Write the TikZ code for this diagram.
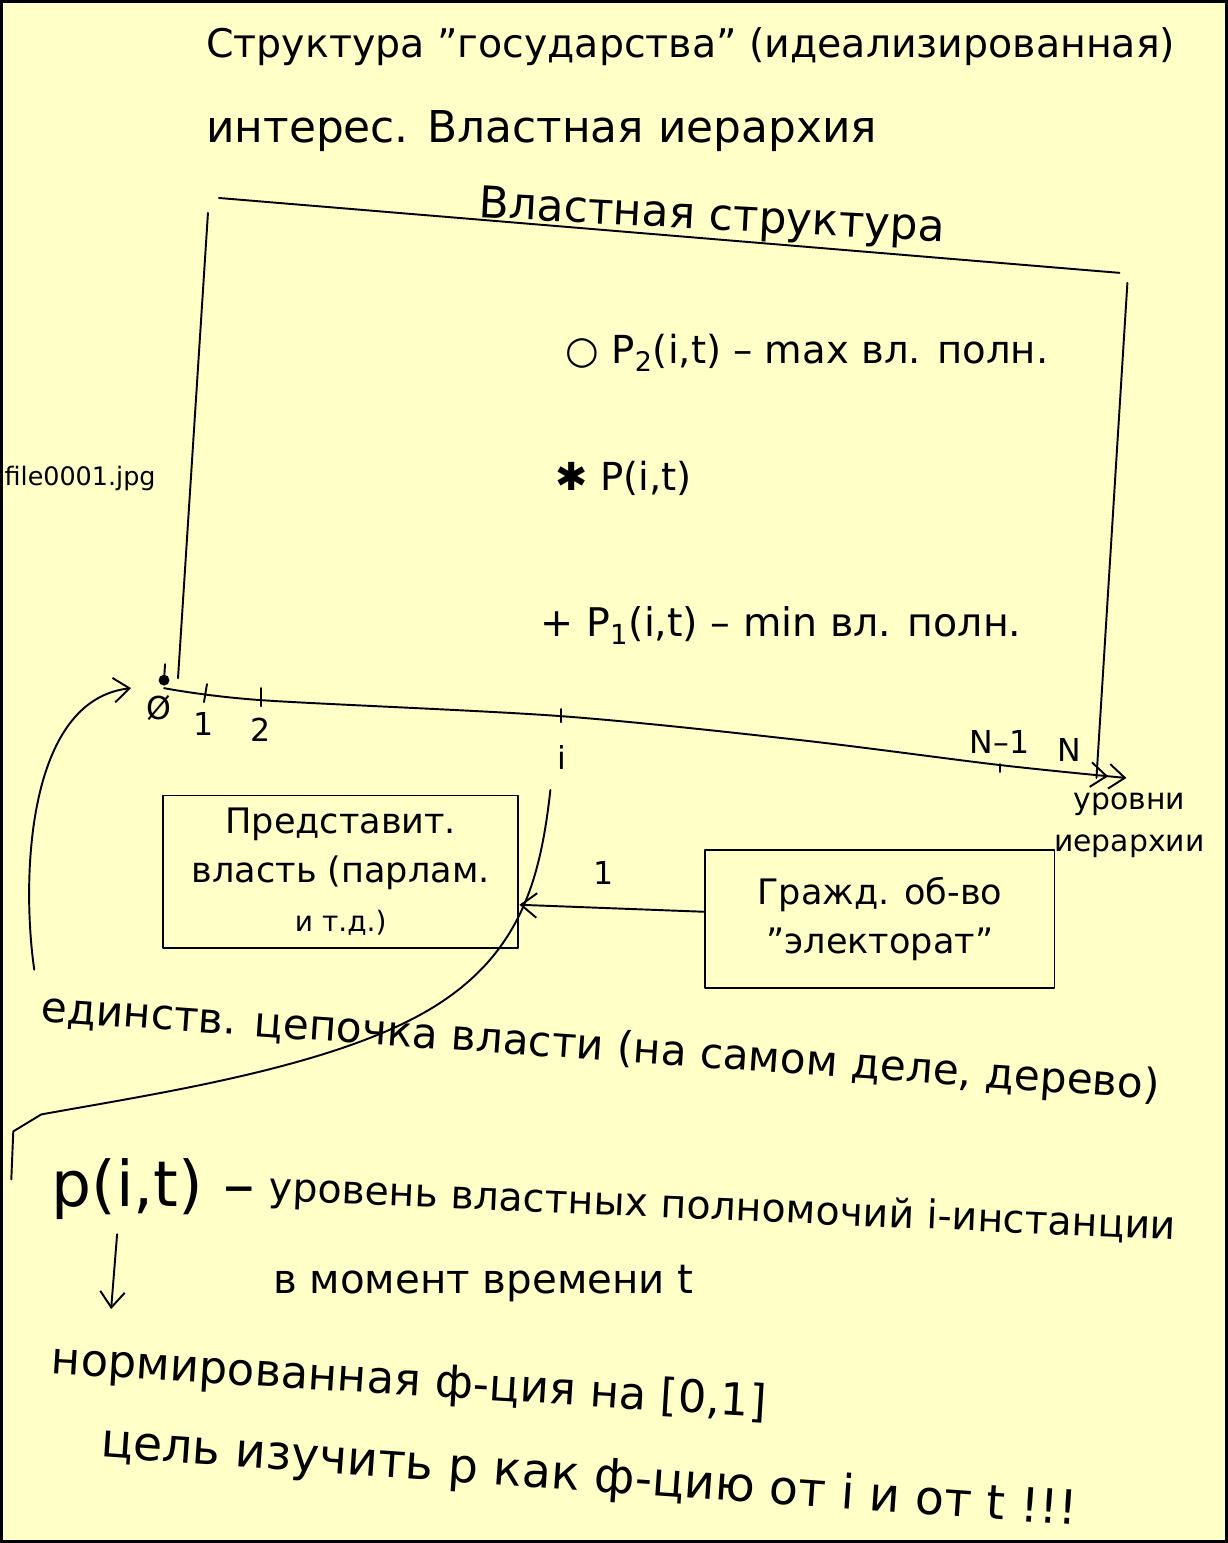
\documentclass[tikz,border=0pt]{standalone}
\usepackage{fontspec}
\setmainfont{DejaVu Sans}
\usetikzlibrary{arrows.meta}
\definecolor{paper}{HTML}{FFFFC8}
\begin{document}
\begin{tikzpicture}[x=0.02cm,y=-0.02cm,
  ink/.style={line width=1.1pt, line cap=round, line join=round},
  hw/.style={font=\fontsize{22}{28}\selectfont, inner sep=0pt, anchor=west},
  sm/.style={font=\fontsize{18}{22}\selectfont, inner sep=0pt},
  boxed/.style={ink, draw, align=center, font=\fontsize{20}{28}\selectfont},
  barb/.style={-{Straight Barb[length=9pt,width=14pt]}}]
\fill[paper] (0,0) rectangle (1227,1543);
\draw[line width=1.5pt] (0,0) rectangle (1227,1543);
\useasboundingbox (0,0) rectangle (1227,1543);

% headings
\node[hw, font=\fontsize{22.5}{30}\selectfont] (title) at (205,45) {Структура "государства" (идеализированная)};
\node[hw, font=\fontsize{25}{30}\selectfont] (sub) at (205,130) {интерес. Властная иерархия};
\node[hw, font=\fontsize{25}{30}\selectfont, rotate=-3] (vs) at (478,205) {Властная структура};
\node[hw, font=\fontsize{14.5}{18}\selectfont] (file) at (3,478) {file0001.jpg};

% open box of the power structure
\coordinate (tl) at (218,197);
\coordinate (tr) at (1120,272);
\coordinate (rt) at (1128,282);
\coordinate (rb) at (1097,778);
\coordinate (lt) at (207,212);
\coordinate (lb) at (177,678);
\draw[ink] (tl) -- (tr);
\draw[ink] (rt) -- (rb);
\draw[ink] (lt) -- (lb);

% curves inside
\node[hw] (p2) at (565,352) {○ P\textsubscript{2}(i,t) – max вл. полн.};
\node[hw] (p) at (555,478) {✱ P(i,t)};
\node[hw, font=\fontsize{22.5}{28}\selectfont] (p1) at (540,625) {+ P\textsubscript{1}(i,t) – min вл. полн.};

% axis
\node[circle, fill, inner sep=2.2pt] (o) at (163,680) {};
\coordinate (otop) at (164,664);
\draw[ink] (otop) -- (o);
\coordinate (axend) at (1127,778);
\draw[ink, -{Straight Barb[length=9pt,width=14pt] Straight Barb[length=9pt,width=14pt]}]
  plot[smooth, tension=0.5] coordinates {(163,688) (260,700) (560,716) (800,740) (1000,765) (1127,778)};
\draw[ink] (206,684) -- (203,702);
\draw[ink] (260,688) -- (260,706);
\draw[ink] (561,709) -- (561,722);
\draw[ink] (1000,764) -- (1000,772);
\node[sm] (l0) at (158,708) {Ø};
\node[sm] (l1) at (203,724) {1};
\node[sm] (l2) at (260,730) {2};
\node[sm] (li) at (562,757) {i};
\node[sm] (lN1) at (1000,742) {N–1};
\node[sm] (lN) at (1070,750) {N};
\node[sm, align=center, font=\fontsize{17}{24}\selectfont] (lev) at (1130,825) {уровни\\иерархии};

% boxes
\node[boxed, minimum width=7.12cm, minimum height=3.06cm] (pred) at (340,872)
  {Представит.\\власть (парлам.\\\fontsize{16}{20}\selectfont и т.д.)};
\node[boxed, minimum width=7cm, minimum height=2.76cm] (grazh) at (880,919)
  {Гражд. об-во\\"электорат"};

% chain curve
\coordinate (ch0) at (550,790);
\coordinate (chx) at (519,905);
\coordinate (ch1) at (12,1132);
\coordinate (ch2) at (10,1180);
\draw[ink] (ch0) .. controls (540,880) and (520,960) .. (420,1015)
  .. controls (320,1070) and (150,1095) .. (40,1115) -- (ch1) -- (ch2);

% arrow 1
\draw[ink, barb] (grazh.west |- 0,912) -- (chx);
\node[sm] (one) at (603,873) {1};

% left arrow
\coordinate (lstart) at (33,970);
\coordinate (lend) at (130,688);
\draw[ink, barb] (lstart) .. controls (20,880) and (25,700) .. (lend);

% bottom texts
\node[hw, font=\fontsize{24}{28}\selectfont, rotate=-4] (chain) at (40,1010) {единств. цепочка власти (на самом деле, дерево)};
\node[hw, font=\fontsize{36}{40}\selectfont] (pit) at (50,1190) {p(i,t) –};
\node[hw, font=\fontsize{22.5}{28}\selectfont, rotate=-2.5] (lvl) at (268,1190) {уровень властных полномочий i-инстанции};
\node[hw, font=\fontsize{23}{28}\selectfont] (mom) at (272,1284) {в момент времени t};
\coordinate (dtop) at (116,1235);
\coordinate (dbot) at (110,1310);
\draw[ink, barb] (dtop) -- (dbot);
\node[hw, font=\fontsize{25.5}{28}\selectfont, rotate=-3.5] (norm) at (50,1362) {нормированная ф-ция на [0,1]};
\node[hw, font=\fontsize{27}{30}\selectfont, rotate=-4] (goal) at (100,1445) {цель изучить p как ф-цию от i и от t !!!};
\end{tikzpicture}
\end{document}
